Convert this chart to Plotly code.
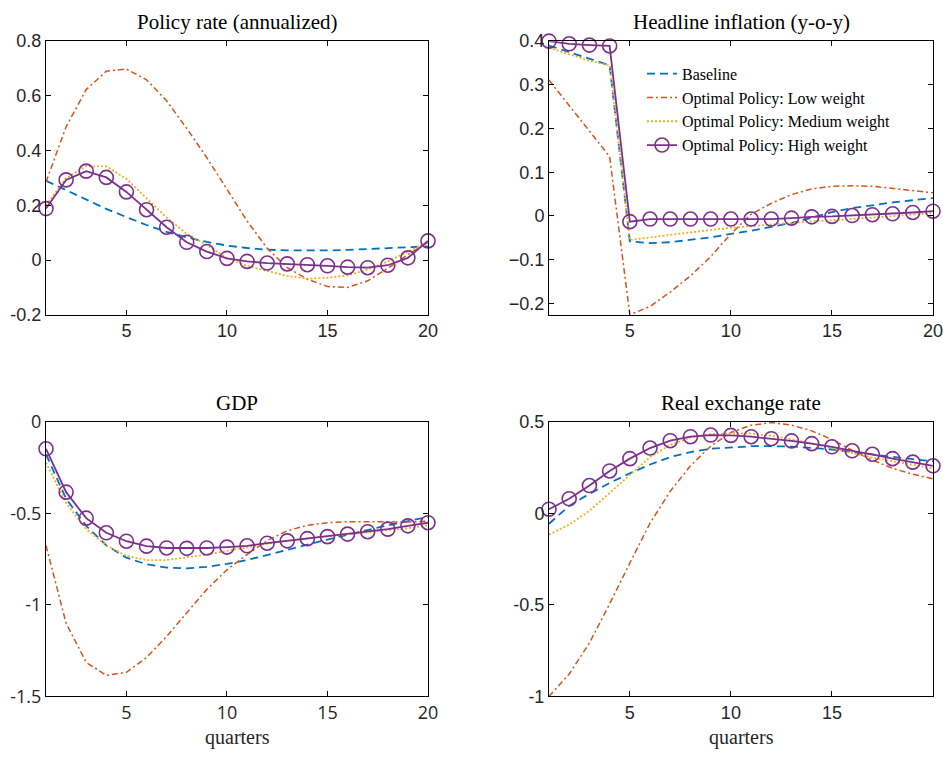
import plotly.graph_objects as go

quarters = list(range(1, 21))

# Policy rate (annualized)
policy_baseline = [0.29, 0.255, 0.22, 0.187, 0.157, 0.128, 0.103, 0.083, 0.066, 0.053,
                   0.044, 0.038, 0.035, 0.034, 0.035, 0.037, 0.040, 0.043, 0.046, 0.050]
policy_low = [0.285, 0.487, 0.623, 0.69, 0.698, 0.659, 0.582, 0.481, 0.374, 0.256,
              0.143, 0.043, -0.028, -0.07, -0.097, -0.1, -0.076, -0.03, 0.02, 0.065]
policy_medium = [0.20, 0.30, 0.343, 0.342, 0.297, 0.226, 0.155, 0.096, 0.055, 0.007,
                 -0.022, -0.04, -0.058, -0.068, -0.065, -0.056, -0.035, -0.005, 0.03, 0.066]
policy_high = [0.188, 0.293, 0.325, 0.302, 0.249, 0.184, 0.120, 0.065, 0.031, 0.006,
               -0.005, -0.011, -0.014, -0.017, -0.021, -0.026, -0.028, -0.019, 0.008, 0.070]

# Headline inflation (y-o-y)
infl_baseline = [0.39, 0.375, 0.36, 0.345, -0.058, -0.062, -0.06, -0.055, -0.049, -0.041,
                 -0.034, -0.025, -0.016, -0.004, 0.009, 0.018, 0.025, 0.031, 0.036, 0.041]
infl_low = [0.311, 0.252, 0.194, 0.136, -0.226, -0.207, -0.174, -0.137, -0.093, -0.041,
            0.004, 0.029, 0.049, 0.062, 0.068, 0.069, 0.068, 0.063, 0.058, 0.053]
infl_medium = [0.385, 0.37, 0.355, 0.345, -0.055, -0.049, -0.043, -0.037, -0.032, -0.027,
               -0.023, -0.019, -0.016, -0.012, -0.010, -0.007, -0.003, 0.0, 0.003, 0.007]
infl_high = [0.4, 0.394, 0.391, 0.389, -0.013, -0.007, -0.007, -0.007, -0.007, -0.007,
             -0.007, -0.007, -0.005, -0.002, -0.001, 0.001, 0.003, 0.005, 0.008, 0.011]

# GDP
gdp_baseline = [-0.178, -0.42, -0.568, -0.675, -0.742, -0.778, -0.796, -0.8, -0.792, -0.776,
                -0.755, -0.728, -0.702, -0.671, -0.643, -0.616, -0.59, -0.565, -0.542, -0.52]
gdp_low = [-0.675, -1.1, -1.314, -1.385, -1.368, -1.288, -1.172, -1.044, -0.915, -0.808,
           -0.725, -0.648, -0.595, -0.565, -0.551, -0.545, -0.545, -0.547, -0.547, -0.542]
gdp_medium = [-0.222, -0.444, -0.586, -0.675, -0.732, -0.755, -0.755, -0.742, -0.725, -0.705,
              -0.684, -0.666, -0.65, -0.636, -0.625, -0.615, -0.604, -0.593, -0.581, -0.565]
gdp_high = [-0.147, -0.384, -0.526, -0.606, -0.652, -0.679, -0.689, -0.691, -0.689, -0.684,
            -0.677, -0.663, -0.65, -0.638, -0.627, -0.613, -0.6, -0.586, -0.568, -0.551]

# Real exchange rate
rer_baseline = [-0.057, 0.041, 0.107, 0.166, 0.219, 0.267, 0.308, 0.335, 0.353, 0.362,
                0.367, 0.367, 0.365, 0.358, 0.349, 0.335, 0.321, 0.308, 0.296, 0.285]
rer_low = [-1.0, -0.877, -0.708, -0.494, -0.271, -0.053, 0.121, 0.26, 0.367, 0.442,
           0.482, 0.496, 0.482, 0.451, 0.403, 0.344, 0.291, 0.246, 0.214, 0.189]
rer_medium = [-0.116, -0.061, 0.014, 0.112, 0.214, 0.308, 0.374, 0.415, 0.433, 0.438,
              0.437, 0.424, 0.406, 0.383, 0.356, 0.33, 0.305, 0.285, 0.267, 0.246]
rer_high = [0.023, 0.08, 0.152, 0.232, 0.299, 0.357, 0.397, 0.419, 0.428, 0.426,
            0.419, 0.408, 0.396, 0.381, 0.364, 0.342, 0.323, 0.299, 0.28, 0.26]

series_names = ["Baseline", "Optimal Policy: Low weight",
                "Optimal Policy: Medium weight", "Optimal Policy: High weight"]
panel_titles = ["Policy rate (annualized)", "Headline inflation (y-o-y)",
                "GDP", "Real exchange rate"]
x_title = "quarters"
panels = [
    (policy_baseline, policy_low, policy_medium, policy_high),
    (infl_baseline, infl_low, infl_medium, infl_high),
    (gdp_baseline, gdp_low, gdp_medium, gdp_high),
    (rer_baseline, rer_low, rer_medium, rer_high),
]
x_range = [1, 20]
y_ranges = [[-0.2, 0.8], [-0.226, 0.4], [-1.5, 0], [-1.0, 0.5]]
y_ticks = [[-0.2, 0, 0.2, 0.4, 0.6, 0.8],
           [-0.2, -0.1, 0, 0.1, 0.2, 0.3, 0.4],
           [-1.5, -1, -0.5, 0],
           [-1, -0.5, 0, 0.5]]
y_ticktext = [["-0.2", "0", "0.2", "0.4", "0.6", "0.8"],
              ["-0.2", "-0.1", "0", "0.1", "0.2", "0.3", "0.4"],
              ["-1.5", "-1", "-0.5", "0"],
              ["-1", "-0.5", "0", "0.5"]]
x_ticks = [5, 10, 15, 20]

W, H = 943, 760
x_px = [[46, 428], [549, 933]]
y_px = [[32, 313], [423, 705]]
x_doms = [[a / W, b / W] for a, b in x_px]
y_doms = [[1 - b / H, 1 - a / H] for a, b in y_px]

colors = ["#0072BD", "#D95319", "#EDB120", "#7E2F8E"]
dashes = ["8px,5px", "6px,3px,2px,3px", "2px,2px", "solid"]
widths = [1.8, 1.5, 1.8, 1.8]

AX = "#262626"
SERIF = "Liberation Serif"
SANS = "Liberation Sans"

fig = go.Figure()
annotations = []

for i, data in enumerate(panels):
    r, c = divmod(i, 2)
    n = i + 1
    xa = "x" if n == 1 else f"x{n}"
    ya = "y" if n == 1 else f"y{n}"
    for k in range(4):
        tr = dict(
            x=quarters, y=data[k], xaxis=xa, yaxis=ya,
            name=series_names[k], legendgroup=series_names[k],
            showlegend=(i == 1),
            line=dict(color=colors[k], dash=dashes[k], width=widths[k]),
            mode="lines",
        )
        if k == 3:
            tr["mode"] = "lines+markers"
            tr["marker"] = dict(symbol="circle-open", size=14,
                                color=colors[k], line=dict(width=1.6, color=colors[k]))
            tr["cliponaxis"] = False
        fig.add_trace(go.Scatter(**tr))

    xkey = "xaxis" if n == 1 else f"xaxis{n}"
    ykey = "yaxis" if n == 1 else f"yaxis{n}"
    xa_cfg = dict(domain=x_doms[c], anchor=ya, showline=True, linecolor="black",
                  linewidth=1, mirror="ticks", ticks="inside", ticklen=5,
                  tickwidth=1, tickcolor="black", showgrid=False, zeroline=False)
    ya_cfg = dict(domain=y_doms[r], anchor=xa, showline=True, linecolor="black",
                  linewidth=1, mirror="ticks", ticks="inside", ticklen=5,
                  tickwidth=1, tickcolor="black", showgrid=False, zeroline=False)
    if i != 1:
        xa_cfg.update(range=x_range, tickmode="array", tickvals=x_ticks,
                      ticktext=[str(t) for t in x_ticks])
        ya_cfg.update(range=y_ranges[i], tickmode="array", tickvals=y_ticks[i],
                      ticktext=y_ticktext[i])
    else:
        xa_cfg.update(range=x_range, dtick=5, tick0=0)
        ya_cfg.update(range=y_ranges[i], dtick=0.1, tick0=0)
    if i != 2:
        xa_cfg.update(tickfont=dict(family=SANS, size=18, color=AX))
        ya_cfg.update(tickfont=dict(family=SANS, size=18, color=AX))
    else:
        xa_cfg.update(tickfont=dict(size=18, color=AX))
        ya_cfg.update(tickfont=dict(size=18, color=AX))
    if i != 3:
        xa_cfg.update(automargin=False, ticklabeloverflow="allow")
        ya_cfg.update(automargin=False, ticklabeloverflow="allow")
    fig.update_layout({xkey: xa_cfg, ykey: ya_cfg})

    annotations.append(dict(
        text=panel_titles[i], xref="paper", yref="paper",
        x=(x_doms[c][0] + x_doms[c][1]) / 2, y=y_doms[r][1] + 5 / H,
        xanchor="center", yanchor="bottom", showarrow=False,
        font=dict(family=SERIF, size=21, color="black"),
    ))
    if r == 1:
        annotations.append(dict(
            text=x_title, xref="paper", yref="paper",
            x=(x_doms[c][0] + x_doms[c][1]) / 2, y=y_doms[r][0] - 28 / H,
            xanchor="center", yanchor="top", showarrow=False,
            font=dict(family=SERIF, size=20, color=AX),
        ))

fig.update_layout(
    width=W, height=H,
    margin=dict(l=0, r=0, t=0, b=0),
    paper_bgcolor="white", plot_bgcolor="white",
    showlegend=True,
    legend=dict(x=642 / W, y=1 - 48 / H, xanchor="left", yanchor="top",
                bgcolor="rgba(0,0,0,0)", borderwidth=0,
                font=dict(family=SERIF, size=16, color="black"),
                tracegroupgap=0),
    annotations=annotations,
)
fig.write_html("out.html")
